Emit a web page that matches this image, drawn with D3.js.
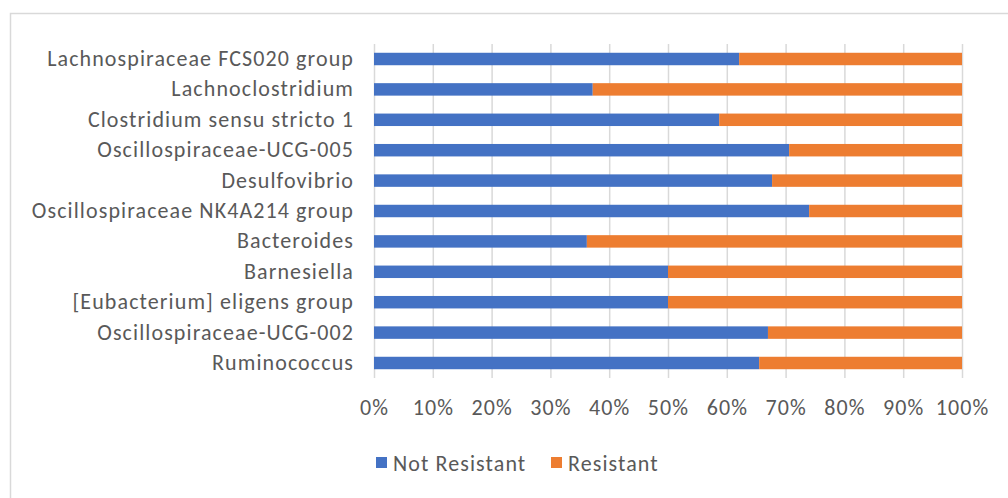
<!DOCTYPE html>
<html><head><meta charset="utf-8">
<script src="https://cdn.jsdelivr.net/npm/d3@7"></script>
<style>body{margin:0;background:#fff}svg{display:block}</style>
</head><body><svg id="c" width="1008" height="498"></svg>
<script>
const categories = ["Lachnospiraceae FCS020 group","Lachnoclostridium","Clostridium sensu stricto 1","Oscillospiraceae-UCG-005","Desulfovibrio","Oscillospiraceae NK4A214 group","Bacteroides","Barnesiella","[Eubacterium] eligens group","Oscillospiraceae-UCG-002","Ruminococcus"];
const notResistant = [62.1, 37.2, 58.7, 70.6, 67.7, 74.0, 36.2, 50.0, 50.0, 67.0, 65.5];
const resistant = notResistant.map(v => 100 - v);
const seriesNames = ["Not Resistant","Resistant"];
const colors = ["#4472C4","#ED7D31"];
const xTicks = [0,10,20,30,40,50,60,70,80,90,100];

const svg = d3.select("#c");
const font = "Calibri, Carlito, Lato, 'Liberation Sans', sans-serif";
const textColor = "#595959";
const fs = 22, ls = "1.1px";
// frame
svg.append("rect").attr("x",10.5).attr("y",13.5).attr("width",1010).attr("height",500)
  .attr("fill","none").attr("stroke","#d9d9d9").attr("stroke-width",1.5);

const x = d3.scaleLinear().domain([0,100]).range([374,962]);
const y = d3.scaleBand().domain(categories).range([43.8,378.2]).paddingInner(0.59).paddingOuter(0.295);

// gridlines
svg.append("g").selectAll("line").data(xTicks).join("line")
  .attr("x1",d=>x(d)+0.5).attr("x2",d=>x(d)+0.5).attr("y1",44).attr("y2",378)
  .attr("stroke","#d9d9d9").attr("stroke-width",1.5);

const stack = d3.stack().keys([0,1]).value((d,k)=>k===0?d.nr:d.r);
const rows = categories.map((c,i)=>({cat:c,nr:notResistant[i],r:resistant[i]}));
const stacked = stack(rows);
svg.append("g").selectAll("g").data(stacked).join("g").attr("fill",(d,i)=>colors[i])
  .selectAll("rect").data(d=>d).join("rect")
  .attr("x",d=>x(d[0])).attr("width",d=>x(d[1])-x(d[0]))
  .attr("y",d=>y(d.data.cat)).attr("height",y.bandwidth());

// y labels
const yAxis = d3.axisLeft(y).tickSize(0).tickPadding(0);
const ga = svg.append("g").attr("transform","translate(354,0)").call(yAxis);
ga.select(".domain").remove();
ga.selectAll("text").attr("font-family",font).attr("font-size",fs).attr("letter-spacing",ls).attr("fill",textColor);

// x labels
const xa = svg.append("g").attr("transform","translate(0,399)").call(d3.axisBottom(x).tickValues(xTicks).tickFormat(d=>d+"%").tickSize(0).tickPadding(0));
xa.select(".domain").remove();
xa.selectAll("text").attr("font-family",font).attr("font-size",fs).attr("letter-spacing",ls).attr("fill",textColor).attr("dy","0.71em");

// legend
const leg = svg.append("g");
const legX = [376, 551];
seriesNames.forEach((n,i)=>{
  leg.append("rect").attr("x",legX[i]).attr("y",457).attr("width",11).attr("height",11).attr("fill",colors[i]);
  leg.append("text").attr("x",legX[i]+17).attr("y",463).attr("dy","0.35em").attr("font-family",font)
    .attr("font-size",fs).attr("letter-spacing",ls).attr("fill",textColor).text(n);
});
</script></body></html>
